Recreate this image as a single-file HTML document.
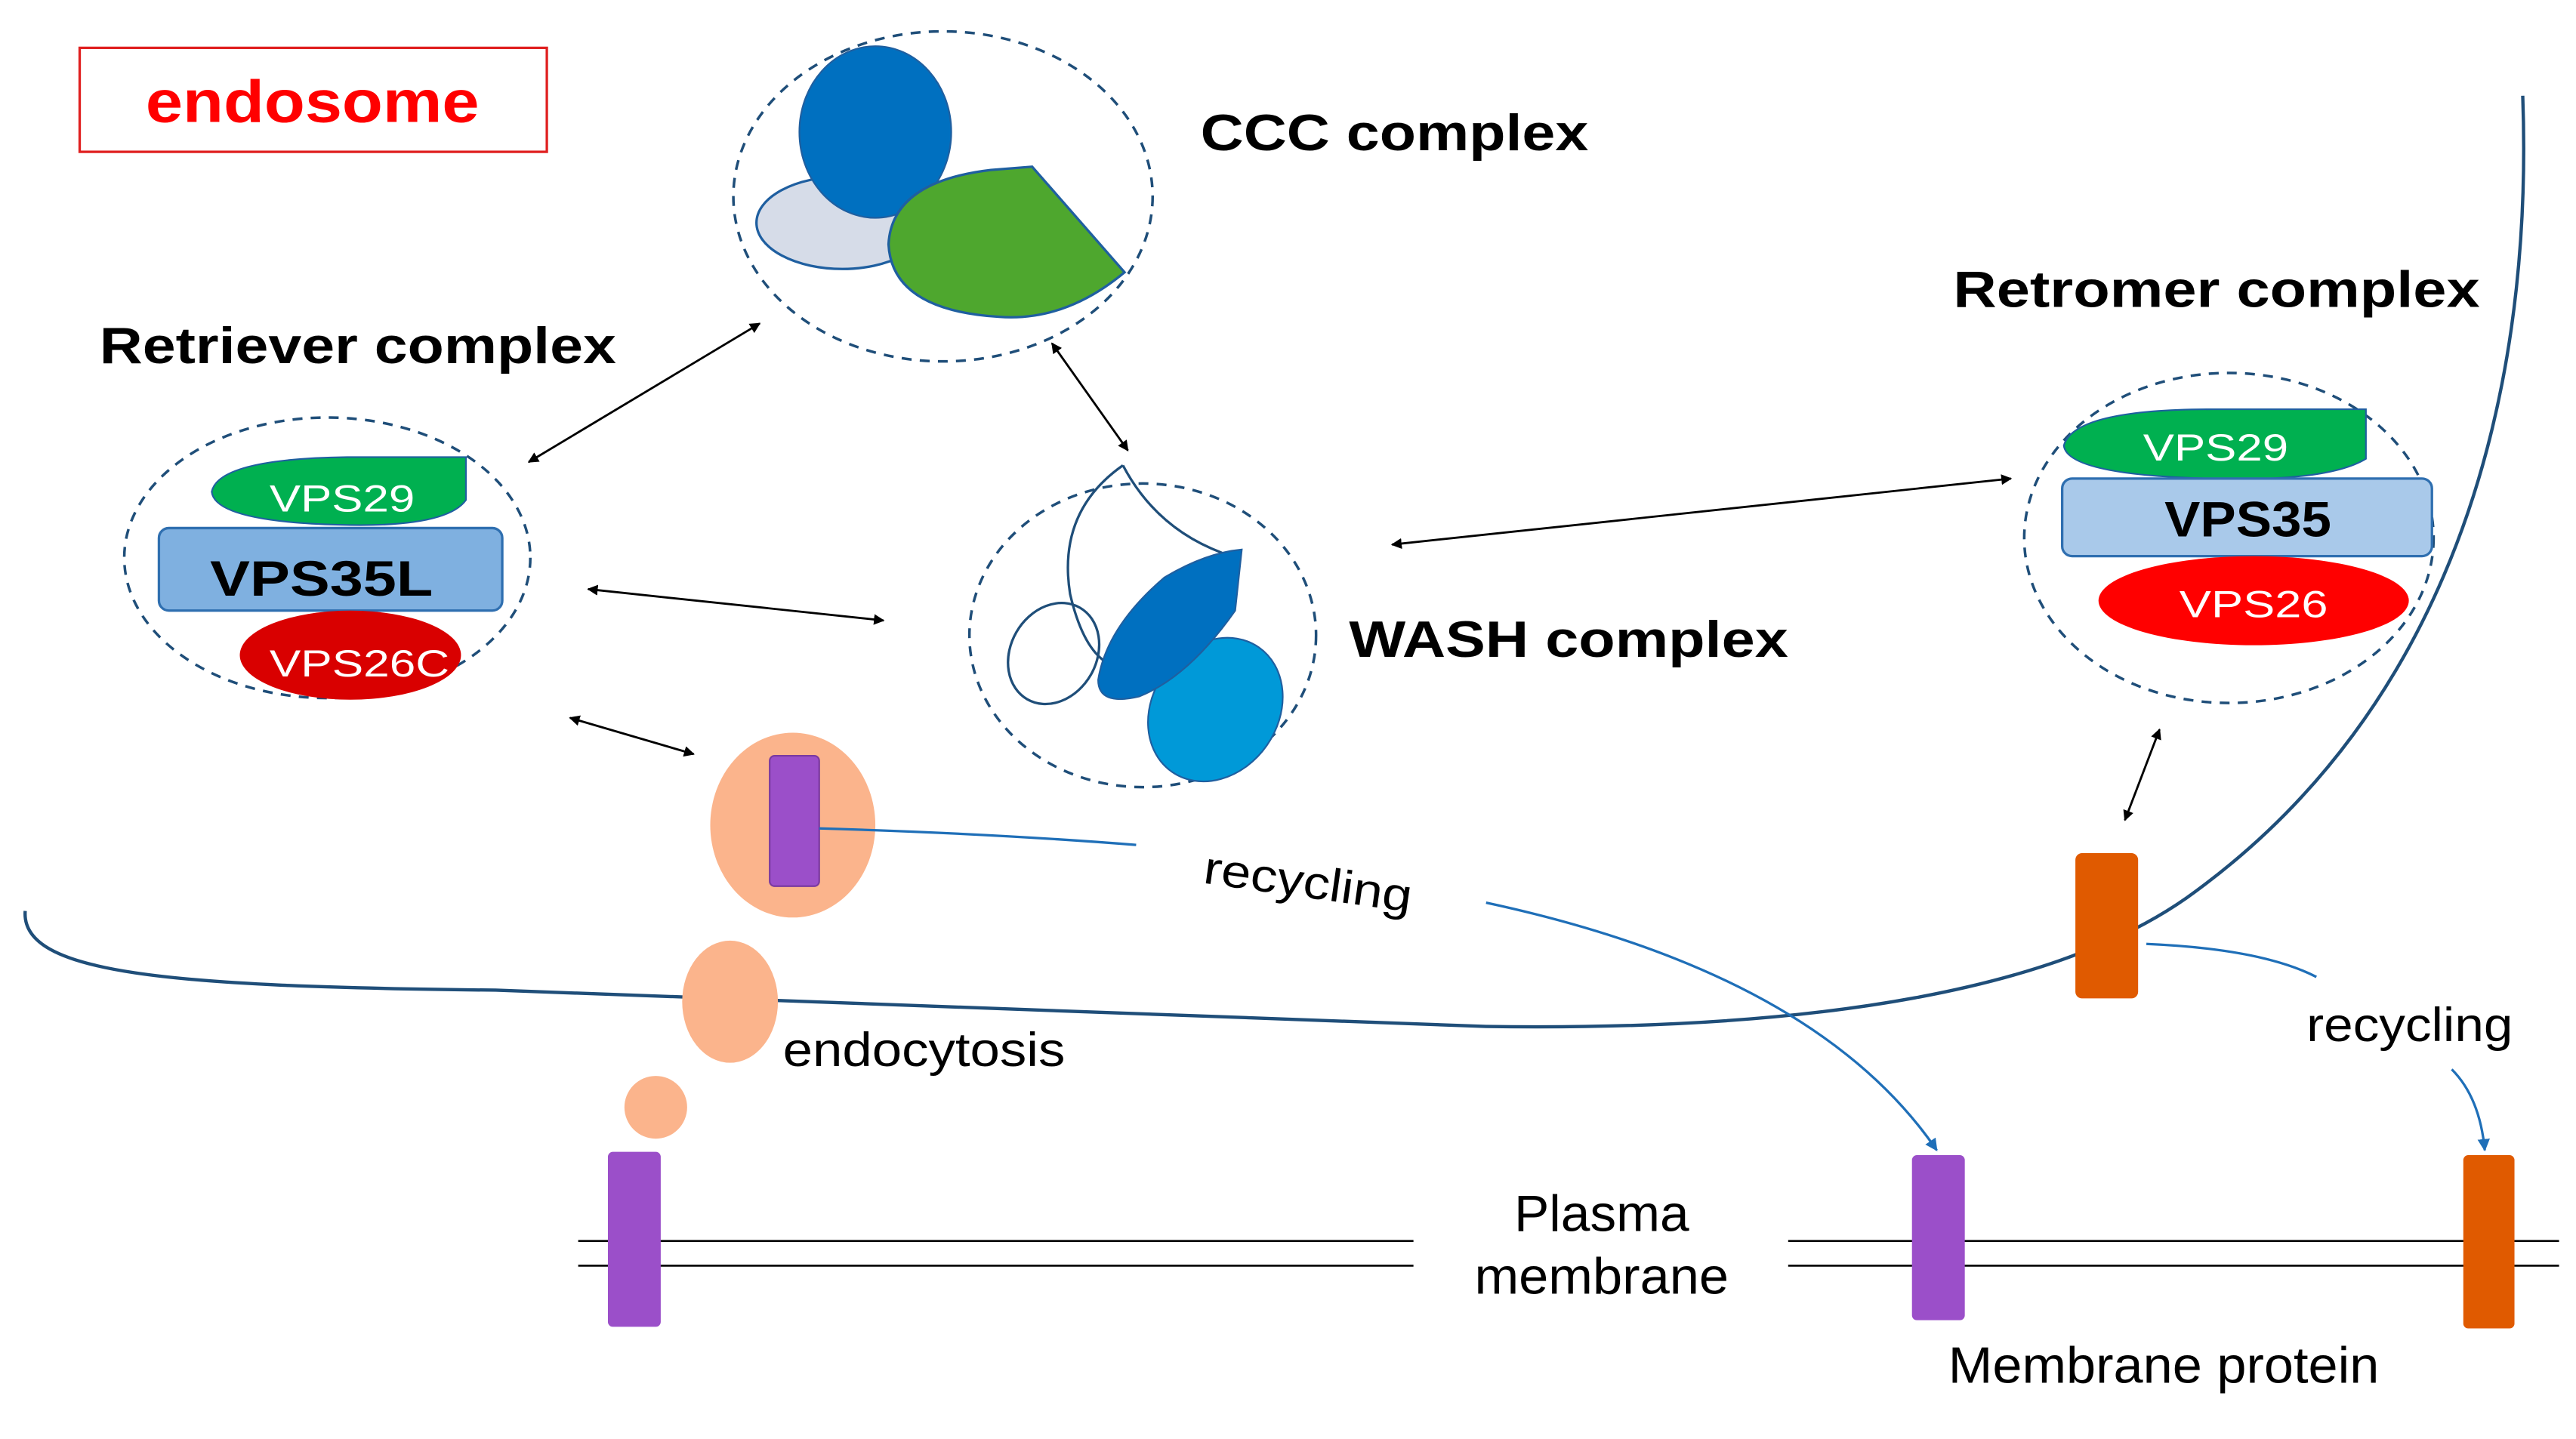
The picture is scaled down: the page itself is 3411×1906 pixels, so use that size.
<!DOCTYPE html>
<html><head><meta charset="utf-8"><style>html,body{margin:0;padding:0;background:#fff}svg{display:block}</style></head>
<body>
<svg width="3411" height="1906" viewBox="0 0 1560 872" xmlns="http://www.w3.org/2000/svg" font-family="Liberation Sans, sans-serif">
<defs>
<marker id="ah" viewBox="0 0 10 10" refX="9" refY="5" markerWidth="5" markerHeight="5" orient="auto-start-reverse"><path d="M0,0 L10,5 L0,10 z" fill="#000"/></marker>
<marker id="bh" viewBox="0 0 10 10" refX="9" refY="5" markerWidth="5" markerHeight="5" orient="auto"><path d="M0,0 L10,5 L0,10 z" fill="#1f6fb8"/></marker>
</defs>
<rect width="1560" height="872" fill="#fff"/>
<rect x="48" y="29" width="283" height="63" fill="none" stroke="#e02020" stroke-width="1.5"/>
<text x="88" y="74" font-size="36" font-weight="bold" fill="#ff0000" textLength="202" lengthAdjust="spacingAndGlyphs">endosome</text>
<path d="M15,552 C12,590 100,598 300,600 L900,622 C1100,625 1250,600 1330,540 C1480,430 1535,250 1528,58" fill="none" stroke="#1f4e79" stroke-width="2"/>
<!-- CCC -->
<ellipse cx="571" cy="119" rx="127" ry="100" fill="none" stroke="#1f4e79" stroke-width="1.6" stroke-dasharray="6,5"/>
<ellipse cx="510" cy="135" rx="52" ry="28" fill="#d6dce8" stroke="#1f5fa0" stroke-width="1.5"/>
<ellipse cx="530" cy="80" rx="46" ry="52" fill="#0070c0" stroke="#1f5fa0" stroke-width="1"/>
<path d="M600,103 L625,101 L681,165 Q645,195 605,192 Q540,188 538,148 Q540,110 600,103 Z" fill="#4ea72e" stroke="#1f5fa0" stroke-width="1.5"/>
<text x="727" y="91" font-size="31" font-weight="bold" textLength="235" lengthAdjust="spacingAndGlyphs">CCC complex</text>
<!-- Retriever -->
<text x="60" y="220" font-size="31" font-weight="bold" textLength="313" lengthAdjust="spacingAndGlyphs">Retriever complex</text>
<ellipse cx="198" cy="338" rx="123" ry="85" fill="none" stroke="#1f4e79" stroke-width="1.6" stroke-dasharray="6,5"/>
<path d="M282,277 L282,303 Q270,320 205,318 Q130,316 128,298 Q132,278 210,277 Z" fill="#00b050" stroke="#1f5fa0" stroke-width="1"/>
<text x="163" y="310" font-size="23" fill="#fff" textLength="88" lengthAdjust="spacingAndGlyphs">VPS29</text>
<rect x="96" y="320" width="208" height="50" rx="6" fill="#7fb0e0" stroke="#2f6fb0" stroke-width="1.5"/>
<text x="127" y="361" font-size="30" font-weight="bold" textLength="135" lengthAdjust="spacingAndGlyphs">VPS35L</text>
<ellipse cx="212" cy="397" rx="67" ry="27" fill="#d90000"/>
<text x="163" y="410" font-size="23" fill="#fff" textLength="109" lengthAdjust="spacingAndGlyphs">VPS26C</text>
<g stroke="#000" stroke-width="1.3" marker-start="url(#ah)" marker-end="url(#ah)">
<line x1="320" y1="280" x2="460" y2="196"/>
<line x1="356" y1="357" x2="535" y2="376"/>
<line x1="345" y1="435" x2="420" y2="457"/>
<line x1="637" y1="208" x2="683" y2="273"/>
<line x1="843" y1="330" x2="1218" y2="290"/>
<line x1="1287" y1="497" x2="1308" y2="442"/>
</g>
<!-- WASH -->
<ellipse cx="692" cy="385" rx="105" ry="92" fill="none" stroke="#1f4e79" stroke-width="1.6" stroke-dasharray="6,5"/>
<path d="M680,282 Q640,310 648,360 Q655,390 668,400 M680,282 Q700,320 740,335" fill="none" stroke="#1f4e79" stroke-width="1.5"/>
<ellipse cx="638" cy="396" rx="26" ry="32" transform="rotate(30 638 396)" fill="none" stroke="#1f4e79" stroke-width="1.5"/>
<ellipse cx="736" cy="430" rx="38" ry="46" transform="rotate(35 736 430)" fill="#0099d8" stroke="#1f5fa0" stroke-width="1"/>
<path d="M752,333 L748,370 Q720,410 690,422 Q665,428 665,412 Q670,380 705,350 Q730,335 752,333 Z" fill="#0070c0" stroke="#1f5fa0" stroke-width="1"/>
<text x="817" y="398" font-size="31" font-weight="bold" textLength="266" lengthAdjust="spacingAndGlyphs">WASH complex</text>
<!-- Retromer -->
<text x="1183" y="186" font-size="31" font-weight="bold" textLength="319" lengthAdjust="spacingAndGlyphs">Retromer complex</text>
<ellipse cx="1350" cy="326" rx="124" ry="100" fill="none" stroke="#1f4e79" stroke-width="1.6" stroke-dasharray="6,5"/>
<path d="M1433,248 L1433,278 Q1410,292 1340,290 Q1252,288 1250,270 Q1256,248 1340,248 Z" fill="#00b050" stroke="#1f5fa0" stroke-width="1"/>
<text x="1298" y="279" font-size="23" fill="#fff" textLength="88" lengthAdjust="spacingAndGlyphs">VPS29</text>
<rect x="1249" y="290" width="224" height="47" rx="6" fill="#a9c9ea" stroke="#2f6fb0" stroke-width="1.5"/>
<text x="1311" y="325" font-size="30" font-weight="bold" textLength="101" lengthAdjust="spacingAndGlyphs">VPS35</text>
<ellipse cx="1365" cy="364" rx="94" ry="27" fill="#ff0000"/>
<text x="1320" y="374" font-size="23" fill="#fff" textLength="90" lengthAdjust="spacingAndGlyphs">VPS26</text>
<!-- vesicles -->
<ellipse cx="480" cy="500" rx="50" ry="56" fill="#fbb48c"/>
<rect x="466" y="458" width="30" height="79" rx="3" fill="#9b4fc9" stroke="#7a3aa0"/>
<path d="M496,502 Q600,505 688,512" fill="none" stroke="#1f6fb8" stroke-width="1.5"/>
<text x="728" y="535" font-size="28" transform="rotate(8 728 535)" textLength="127" lengthAdjust="spacingAndGlyphs">recycling</text>
<path d="M900,547 Q1100,590 1173,697" fill="none" stroke="#1f6fb8" stroke-width="1.5" marker-end="url(#bh)"/>
<ellipse cx="442" cy="607" rx="29" ry="37" fill="#fbb48c"/>
<circle cx="397" cy="671" r="19" fill="#fbb48c"/>
<text x="474" y="646" font-size="29" textLength="171" lengthAdjust="spacingAndGlyphs">endocytosis</text>
<rect x="1257" y="517" width="38" height="88" rx="4" fill="#e05a00"/>
<path d="M1300,572 Q1370,575 1403,592" fill="none" stroke="#1f6fb8" stroke-width="1.5"/>
<text x="1397" y="631" font-size="29" textLength="125" lengthAdjust="spacingAndGlyphs">recycling</text>
<path d="M1485,648 Q1502,665 1505,697" fill="none" stroke="#1f6fb8" stroke-width="1.5" marker-end="url(#bh)"/>
<g stroke="#000" stroke-width="1.2">
<line x1="350" y1="752" x2="856" y2="752"/><line x1="350" y1="767" x2="856" y2="767"/>
<line x1="1083" y1="752" x2="1550" y2="752"/><line x1="1083" y1="767" x2="1550" y2="767"/>
</g>
<rect x="368" y="698" width="32" height="106" rx="3" fill="#9b4fc9"/>
<rect x="1158" y="700" width="32" height="100" rx="3" fill="#9b4fc9"/>
<rect x="1492" y="700" width="31" height="105" rx="3" fill="#e05a00"/>
<text x="917" y="746" font-size="31" textLength="106" lengthAdjust="spacingAndGlyphs">Plasma</text>
<text x="893" y="784" font-size="31" textLength="154" lengthAdjust="spacingAndGlyphs">membrane</text>
<text x="1180" y="838" font-size="31" textLength="261" lengthAdjust="spacingAndGlyphs">Membrane protein</text>
</svg>
</body></html>
